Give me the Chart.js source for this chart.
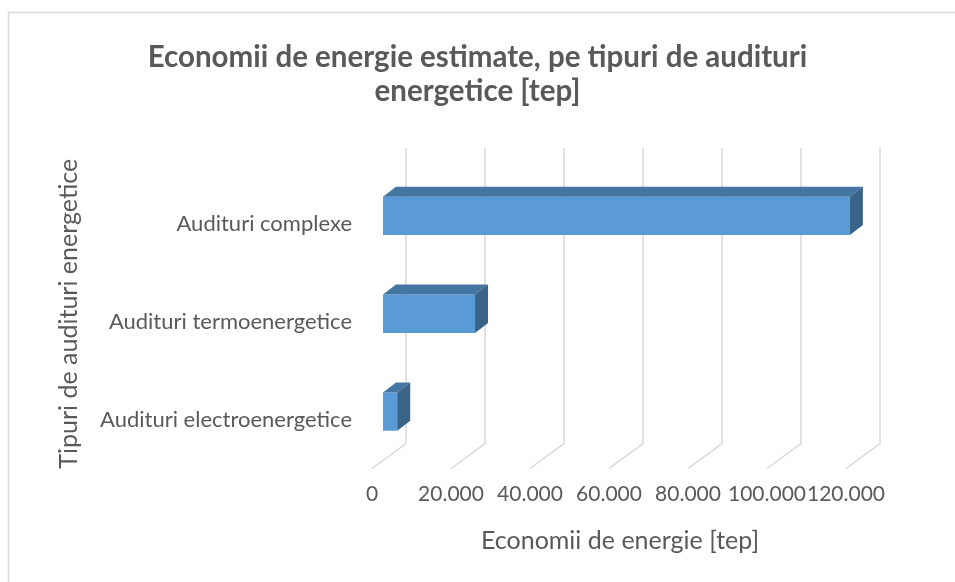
<!DOCTYPE html>
<html>
<head>
<meta charset="utf-8">
<title>Economii de energie estimate</title>
<script src="https://cdn.jsdelivr.net/npm/chart.js@4/dist/chart.umd.min.js"></script>
<style>
html, body { margin: 0; padding: 0; background: #ffffff; }
canvas { display: block; }
</style>
</head>
<body>
<canvas id="auditChart" width="955" height="582"></canvas>
<script>

// ------------------------------
// Data
// ------------------------------

const categories = [
    "Audituri complexe",
    "Audituri termoenergetice",
    "Audituri electroenergetice"
];

const savings = [118200, 23300, 3600];

const tickValues = [0, 20000, 40000, 60000, 80000, 100000, 120000];

const chartTitle = [
    "Economii de energie estimate, pe tipuri de audituri",
    "energetice [tep]"
];

const xTitle = "Economii de energie [tep]";
const yTitle = "Tipuri de audituri energetice";

// ------------------------------
// Colours
// ------------------------------

const textColor = "#595959";
const gridColor = "#d9d9d9";
const frontColor = "#5b9bd5";
const topColor = "#4575a1";
const sideColor = "#3a6388";

// number format like "20.000"
function formatRo(value){
    return String(value).replace(/\B(?=(\d{3})+(?!\d))/g, ".");
}

// ------------------------------
// Frame + 3D walls
// ------------------------------

const framePlugin = {
    id: "frame",
    beforeDraw: function(chart){
        const ctx = chart.ctx;
        ctx.save();
        ctx.fillStyle = "#ffffff";
        ctx.fillRect(0, 0, chart.width, chart.height);
        ctx.strokeStyle = gridColor;
        ctx.lineWidth = 1.5;
        ctx.strokeRect(8.5, 12.5, 1000, 1000);
        ctx.restore();
    }
};

const wallPlugin = {
    id: "walls",
    beforeDatasetsDraw: function(chart){
        const ctx = chart.ctx;
        const area = chart.chartArea;
        const xs = chart.scales.x;
        ctx.save();
        ctx.strokeStyle = gridColor;
        ctx.lineWidth = 1.5;
        xs.ticks.forEach(function(t){
            const px = xs.getPixelForValue(t.value);
            ctx.beginPath();
            ctx.moveTo(px + 23, area.top - 19);
            ctx.lineTo(px + 23, area.bottom - 17);
            ctx.lineTo(px - 11, area.bottom + 8);
            ctx.stroke();
        });
        ctx.restore();
    },
    afterDatasetsDraw: function(chart){
        const ctx = chart.ctx;
        const dx = 13, dy = -10;
        const meta = chart.getDatasetMeta(0);
        ctx.save();
        meta.data.forEach(function(bar){
            const p = bar.getProps(["x", "y", "base", "height"], true);
            const top = p.y - p.height / 2;
            const bottom = p.y + p.height / 2;

            // top face
            ctx.fillStyle = topColor;
            ctx.beginPath();
            ctx.moveTo(p.base, top);
            ctx.lineTo(p.x, top);
            ctx.lineTo(p.x + dx, top + dy);
            ctx.lineTo(p.base + dx, top + dy);
            ctx.closePath();
            ctx.fill();

            // side face
            ctx.fillStyle = sideColor;
            ctx.beginPath();
            ctx.moveTo(p.x, top);
            ctx.lineTo(p.x + dx, top + dy);
            ctx.lineTo(p.x + dx, bottom + dy);
            ctx.lineTo(p.x, bottom);
            ctx.closePath();
            ctx.fill();
        });
        ctx.restore();
    }
};

// ------------------------------
// Chart
// ------------------------------

const ctx = document.getElementById("auditChart");

new Chart(ctx, {

    type: "bar",

    data: {
        labels: categories,
        datasets: [{
            label: "Economii de energie",
            data: savings,
            backgroundColor: frontColor,
            borderWidth: 0,
            categoryPercentage: 1,
            barPercentage: 0.3925
        }]
    },

    options: {
        indexAxis: "y",
        responsive: false,
        animation: false,
        layout: {
            padding: { left: 98, right: 98, top: 0, bottom: 0 }
        },
        plugins: {
            legend: { display: false },
            tooltip: { enabled: false },
            title: {
                display: true,
                text: chartTitle,
                color: textColor,
                font: { family: "Lato", size: 29.5, weight: "bold", lineHeight: 1.186 },
                padding: { top: 39.5, bottom: 57.5 }
            }
        },
        scales: {
            x: {
                min: 0,
                max: 120000,
                border: { display: false },
                grid: { display: false, drawTicks: false },
                afterBuildTicks: function(scale){
                    scale.ticks = tickValues.map(function(v){ return { value: v }; });
                },
                afterFit: function(scale){
                    scale.height = 121.5;
                },
                ticks: {
                    autoSkip: false,
                    maxRotation: 0,
                    padding: 20.9,
                    labelOffset: -11,
                    color: textColor,
                    font: { family: "Lato", size: 21, lineHeight: 1.2 },
                    callback: function(value){ return formatRo(value); }
                },
                title: {
                    display: true,
                    text: xTitle,
                    color: textColor,
                    font: { family: "Lato", size: 25, lineHeight: 1.2 },
                    padding: { top: 0, bottom: 26 }
                }
            },
            y: {
                border: { display: false },
                grid: { display: false, drawTicks: false },
                afterFit: function(scale){
                    scale.width = 285;
                },
                ticks: {
                    padding: 31,
                    labelOffset: 8,
                    color: textColor,
                    font: { family: "Lato", size: 22 }
                },
                title: {
                    display: true,
                    text: yTitle,
                    color: textColor,
                    font: { family: "Lato", size: 25, lineHeight: 1.2 },
                    padding: { top: -44, bottom: 0 }
                }
            }
        }
    },

    plugins: [framePlugin, wallPlugin]

});

</script>
</body>
</html>
